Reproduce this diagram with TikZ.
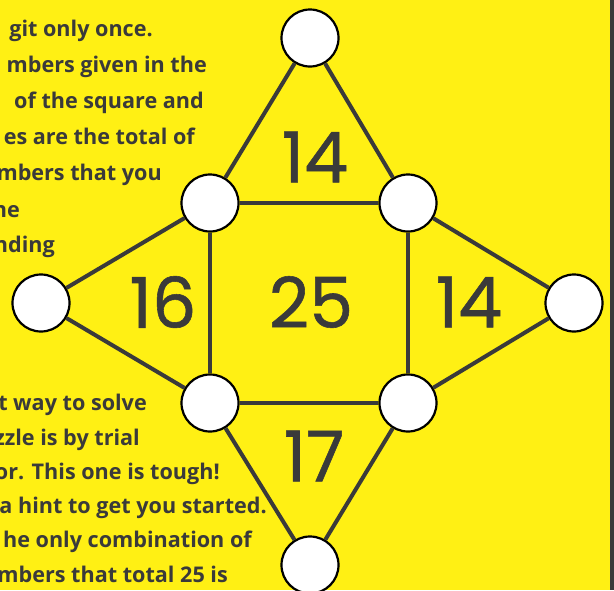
\documentclass[tikz,border=0pt]{standalone}
\usepackage{fontspec}
\setmainfont{Open Sans}
\newfontfamily\numfont[FakeBold=0.8]{Poppins}
\usepackage{tikz}
\usetikzlibrary{positioning}

\definecolor{puzzleyellow}{RGB}{255,240,20}
\definecolor{inkgray}{RGB}{58,58,58}

\tikzset{
  dot/.style={circle, draw=black, line width=2.2pt, fill=white, minimum size=57pt, inner sep=0pt},
  link/.style={line width=4pt, draw=inkgray},
  total/.style={font=\numfont\fontsize{70}{70}\selectfont, text=inkgray, inner sep=0pt},
  hint/.style={font=\bfseries\fontsize{21.6}{21.6}\selectfont, text=inkgray, anchor=base east, inner sep=0pt}
}

\begin{document}
\begin{tikzpicture}[x=1pt,y=-1pt]
            % Background
            \fill[puzzleyellow] (0,0) rectangle (614,590);
            \fill[inkgray] (610,0) rectangle (614,590);
            \useasboundingbox (0,0) rectangle (614,590);
            \clip (0,0) rectangle (614,590);

            % Instructions (cut off at the left)
            \node[hint] (h1) at (153,36) {git only once.};
            \node[hint] (h2) at (207,72) {mbers given in the};
            \node[hint] (h3) at (204,108) {of the square and};
            \node[hint] (h4) at (195,144) {es are the total of};
            \node[hint] (h5) at (162,180) {mbers that you};
            \node[hint] (h6) at (20,217) {ne};
            \node[hint] (h7) at (55,252) {nding};

            \node[hint] (g1) at (147,410) {t way to solve};
            \node[hint] (g2) at (140,445) {zzle is by trial};
            \node[hint] (g3) at (220,479) {or. This one is tough!};
            \node[hint] (g4) at (267,513) {a hint to get you started.};
            \node[hint] (g5) at (252,547) {he only combination of};
            \node[hint] (g6) at (228,582) {mbers that total 25 is};

            % Circles
            \node[dot] (top) at (310,38) {};
            \node[dot] (tl) at (210,203) {};
            \node[dot] (tr) at (408,203) {};
            \node[dot] (bl) at (210,403) {};
            \node[dot] (br) at (408,403) {};
            \node[dot] (left) at (41,303) {};
            \node[dot] (right) at (574,303) {};
            \node[dot] (bottom) at (310,565) {};

            % Connectors
            \foreach \a/\b in {top/tl, top/tr, tl/tr, tl/bl, tr/br, bl/br,
                               left/tl, left/bl, right/tr, right/br,
                               bottom/bl, bottom/br} {
                \draw[link] (\a) -- (\b);
            }

            % Totals
            \node[total] (sumtop) at (315,157) {14};
            \node[total] (sumleft) at (163,302) {16};
            \node[total] (summid) at (311,302) {25};
            \node[total] (sumright) at (469,302) {14};
            \node[total] (sumbottom) at (314,456) {17};
        \end{tikzpicture}
\end{document}
